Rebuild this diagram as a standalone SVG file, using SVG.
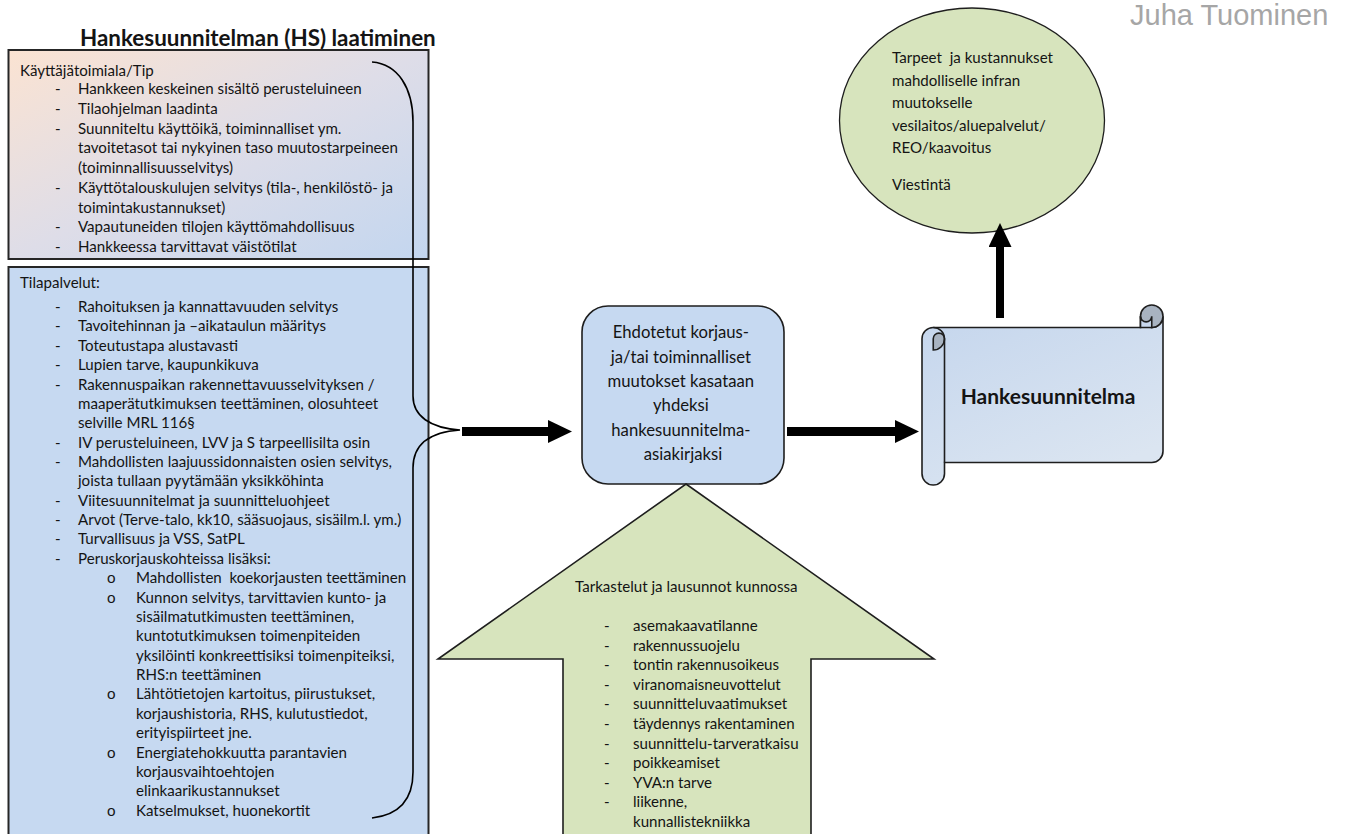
<svg xmlns="http://www.w3.org/2000/svg" width="1349" height="834" viewBox="0 0 1349 834">
  <defs>
    <style>
      .txt { font-family: Lato, "Liberation Sans", sans-serif; font-size: 15.1px; fill: #141414; }
      .mid { font-size: 16.7px; }
      .bold { font-weight: bold; }
      .pre { white-space: pre; }
      .panel { stroke: #262626; stroke-width: 2; }
      .edge { stroke: #1e1e1e; stroke-width: 1.6; }
      .blue { fill: #c6d9f1; }
      .green { fill: #d7e4bd; }
      .shaft { stroke: #000; fill: none; }
      .brace { fill: none; stroke: #000; stroke-width: 1.6; }
    </style>
    <linearGradient id="gradTop" x1="0" y1="0" x2="1" y2="1">
      <stop offset="0" stop-color="#fbe3d2"/>
      <stop offset="0.5" stop-color="#dedde8"/>
      <stop offset="1" stop-color="#c3d6ef"/>
    </linearGradient>
    <linearGradient id="gradScroll" x1="0" y1="0" x2="0.6" y2="1">
      <stop offset="0" stop-color="#c5d6ed"/>
      <stop offset="1" stop-color="#dbe5f1"/>
    </linearGradient>
    <marker id="head" markerUnits="userSpaceOnUse" viewBox="0 0 24 23" markerWidth="24" markerHeight="23" refX="0" refY="11.5" orient="auto">
      <path d="M0,0 L24,11.5 L0,23 Z" fill="#000"/>
    </marker>
  </defs>

  <rect width="1349" height="834" fill="#fff"/>

  <!-- heading and author -->
  <text x="80" y="46" class="txt bold" style="font-size:22.4px">Hankesuunnitelman (HS) laatiminen</text>
  <text x="1130" y="25" style="font-family:'Liberation Sans',Arial,sans-serif;font-size:29px;fill:#a6a6a6">Juha Tuominen</text>

  <!-- user department box -->
  <g id="kayttaja">
    <rect x="8.5" y="50" width="420" height="209" fill="url(#gradTop)" class="panel"/>
    <text class="txt">
      <tspan x="20" y="76">Käyttäjätoimiala/Tip</tspan>
      <tspan x="55" y="94">-</tspan><tspan x="78" y="94">Hankkeen keskeinen sisältö perusteluineen</tspan>
      <tspan x="55" y="113.75">-</tspan><tspan x="78" y="113.75">Tilaohjelman laadinta</tspan>
      <tspan x="55" y="133.5">-</tspan><tspan x="78" y="133.5">Suunniteltu käyttöikä, toiminnalliset ym.</tspan>
      <tspan x="78" y="153.25">tavoitetasot tai nykyinen taso muutostarpeineen</tspan>
      <tspan x="78" y="173">(toiminnallisuusselvitys)</tspan>
      <tspan x="55" y="192.75">-</tspan><tspan x="78" y="192.75">Käyttötalouskulujen selvitys (tila-, henkilöstö- ja</tspan>
      <tspan x="78" y="212.5">toimintakustannukset)</tspan>
      <tspan x="55" y="232.25">-</tspan><tspan x="78" y="232.25">Vapautuneiden tilojen käyttömahdollisuus</tspan>
      <tspan x="55" y="252">-</tspan><tspan x="78" y="252">Hankkeessa tarvittavat väistötilat</tspan>
    </text>
  </g>

  <!-- facility services box -->
  <g id="tilapalvelut">
    <rect x="8.5" y="267" width="420" height="590" class="panel blue"/>
    <text class="txt">
      <tspan x="20" y="288">Tilapalvelut:</tspan>
      <tspan x="55" y="312">-</tspan><tspan x="78" y="312">Rahoituksen ja kannattavuuden selvitys</tspan>
      <tspan x="55" y="331.4">-</tspan><tspan x="78" y="331.4">Tavoitehinnan ja –aikataulun määritys</tspan>
      <tspan x="55" y="350.7">-</tspan><tspan x="78" y="350.7">Toteutustapa alustavasti</tspan>
      <tspan x="55" y="370.1">-</tspan><tspan x="78" y="370.1">Lupien tarve, kaupunkikuva</tspan>
      <tspan x="55" y="389.5">-</tspan><tspan x="78" y="389.5">Rakennuspaikan rakennettavuusselvityksen /</tspan>
      <tspan x="78" y="408.9">maaperätutkimuksen teettäminen, olosuhteet</tspan>
      <tspan x="78" y="428.2">selville MRL 116§</tspan>
      <tspan x="55" y="447.6">-</tspan><tspan x="78" y="447.6">IV perusteluineen, LVV ja S tarpeellisilta osin</tspan>
      <tspan x="55" y="467">-</tspan><tspan x="78" y="467">Mahdollisten laajuussidonnaisten osien selvitys,</tspan>
      <tspan x="78" y="486.3">joista tullaan pyytämään yksikköhinta</tspan>
      <tspan x="55" y="505.7">-</tspan><tspan x="78" y="505.7">Viitesuunnitelmat ja suunnitteluohjeet</tspan>
      <tspan x="55" y="525.1">-</tspan><tspan x="78" y="525.1">Arvot (Terve-talo, kk10, sääsuojaus, sisäilm.l. ym.)</tspan>
      <tspan x="55" y="544.4">-</tspan><tspan x="78" y="544.4">Turvallisuus ja VSS, SatPL</tspan>
      <tspan x="55" y="563.8">-</tspan><tspan x="78" y="563.8">Peruskorjauskohteissa lisäksi:</tspan>
      <tspan x="107" y="583.2">o</tspan><tspan x="136" y="583.2" class="pre">Mahdollisten  koekorjausten teettäminen</tspan>
      <tspan x="107" y="602.6">o</tspan><tspan x="136" y="602.6">Kunnon selvitys, tarvittavien kunto- ja</tspan>
      <tspan x="136" y="621.9">sisäilmatutkimusten teettäminen,</tspan>
      <tspan x="136" y="641.3">kuntotutkimuksen toimenpiteiden</tspan>
      <tspan x="136" y="660.7">yksilöinti konkreettisiksi toimenpiteiksi,</tspan>
      <tspan x="136" y="680">RHS:n teettäminen</tspan>
      <tspan x="107" y="699.4">o</tspan><tspan x="136" y="699.4">Lähtötietojen kartoitus, piirustukset,</tspan>
      <tspan x="136" y="718.8">korjaushistoria, RHS, kulutustiedot,</tspan>
      <tspan x="136" y="738.1">erityispiirteet jne.</tspan>
      <tspan x="107" y="757.5">o</tspan><tspan x="136" y="757.5">Energiatehokkuutta parantavien</tspan>
      <tspan x="136" y="776.9">korjausvaihtoehtojen</tspan>
      <tspan x="136" y="796.3">elinkaarikustannukset</tspan>
      <tspan x="107" y="815.6">o</tspan><tspan x="136" y="815.6">Katselmukset, huonekortit</tspan>
    </text>
  </g>

  <!-- curly brace gathering both boxes -->
  <g id="brace">
    <path class="brace" d="M372,62 C398,64 413,88 413,122 L413,396 C413,416 430,428 460,430 C430,432 413,444 413,468 L413,772 C413,800 398,815 372,818"/>
  </g>

  <!-- compiled proposal -->
  <g id="kooste">
    <rect x="582" y="306" width="202" height="178" rx="26" class="edge blue"/>
    <text class="txt mid" text-anchor="middle">
      <tspan x="683" y="338">Ehdotetut korjaus-</tspan>
      <tspan x="683" y="362.5">ja/tai toiminnalliset</tspan>
      <tspan x="683" y="387">muutokset kasataan</tspan>
      <tspan x="683" y="411">yhdeksi</tspan>
      <tspan x="683" y="435.5">hankesuunnitelma-</tspan>
      <tspan x="683" y="460">asiakirjaksi</tspan>
    </text>
  </g>

  <!-- reviews and statements, drawn as a block arrow -->
  <g id="tarkastelut">
    <path d="M686,484 L934,659 L811,659 L811,845 L563,845 L563,659 L438,659 Z" class="edge green"/>
    <text class="txt">
      <tspan x="575" y="592">Tarkastelut ja lausunnot kunnossa</tspan>
      <tspan x="604" y="631">-</tspan><tspan x="633" y="631">asemakaavatilanne</tspan>
      <tspan x="604" y="650.6">-</tspan><tspan x="633" y="650.6">rakennussuojelu</tspan>
      <tspan x="604" y="670.2">-</tspan><tspan x="633" y="670.2">tontin rakennusoikeus</tspan>
      <tspan x="604" y="689.8">-</tspan><tspan x="633" y="689.8">viranomaisneuvottelut</tspan>
      <tspan x="604" y="709.4">-</tspan><tspan x="633" y="709.4">suunnitteluvaatimukset</tspan>
      <tspan x="604" y="729">-</tspan><tspan x="633" y="729">täydennys rakentaminen</tspan>
      <tspan x="604" y="748.6">-</tspan><tspan x="633" y="748.6">suunnittelu-tarveratkaisu</tspan>
      <tspan x="604" y="768.2">-</tspan><tspan x="633" y="768.2">poikkeamiset</tspan>
      <tspan x="604" y="787.8">-</tspan><tspan x="633" y="787.8">YVA:n tarve</tspan>
      <tspan x="604" y="807.4">-</tspan><tspan x="633" y="807.4">liikenne,</tspan>
      <tspan x="633" y="827">kunnallistekniikka</tspan>
    </text>
  </g>

  <!-- project plan scroll -->
  <g id="hankesuunnitelma">
    <path d="M1163,316.25 A11.25,11.25 0 0 1 1151.75,327.5 L1151.75,316.25 A5.625,5.625 0 0 1 1140.5,316.25 L1140.5,327.5 L933.25,327.5 A11.25,11.25 0 0 0 922,338.75 L922,473.75 A11.25,11.25 0 0 0 944.5,473.75 L944.5,462.5 L1151.75,462.5 A11.25,11.25 0 0 0 1163,451.25 Z" fill="url(#gradScroll)" class="edge"/>
    <circle cx="1151.75" cy="316.25" r="11.25" fill="#a8b3c1" class="edge"/>
    <path d="M1140.5,316.25 A5.625,5.625 0 0 0 1151.75,316.25 L1151.75,327.5 L1140.5,327.5 Z" fill="#c8d8ee" class="edge"/>
    <path d="M933.25,350 L933.25,338.75 A5.625,5.625 0 0 1 944.5,338.75 A11.25,11.25 0 0 1 933.25,350 Z" fill="#a8b3c1" class="edge"/>
    <path d="M933.25,327.5 A11.25,11.25 0 0 1 944.5,338.75 L944.5,462.5" fill="none" class="edge"/>
    <text x="1048" y="404" class="txt bold" text-anchor="middle" style="font-size:21px">Hankesuunnitelma</text>
  </g>

  <!-- infrastructure needs -->
  <g id="infra">
    <ellipse cx="972" cy="120.5" rx="132.5" ry="112.5" class="green" stroke="#1e1e1e" stroke-width="1.3"/>
    <text class="txt">
      <tspan x="892" y="63" class="pre">Tarpeet  ja kustannukset</tspan>
      <tspan x="892" y="85.5">mahdolliselle infran</tspan>
      <tspan x="892" y="108">muutokselle</tspan>
      <tspan x="892" y="130.5">vesilaitos/aluepalvelut/</tspan>
      <tspan x="892" y="152.5">REO/kaavoitus</tspan>
      <tspan x="892" y="190">Viestintä</tspan>
    </text>
  </g>

  <!-- flow arrows -->
  <g id="connectors" class="shaft">
    <line x1="462" y1="431.5" x2="548" y2="431.5" stroke-width="9" marker-end="url(#head)"/>
    <line x1="787" y1="431.5" x2="895" y2="431.5" stroke-width="9" marker-end="url(#head)"/>
    <line x1="1000" y1="318" x2="1000" y2="247" stroke-width="8" marker-end="url(#head)"/>
  </g>
</svg>
